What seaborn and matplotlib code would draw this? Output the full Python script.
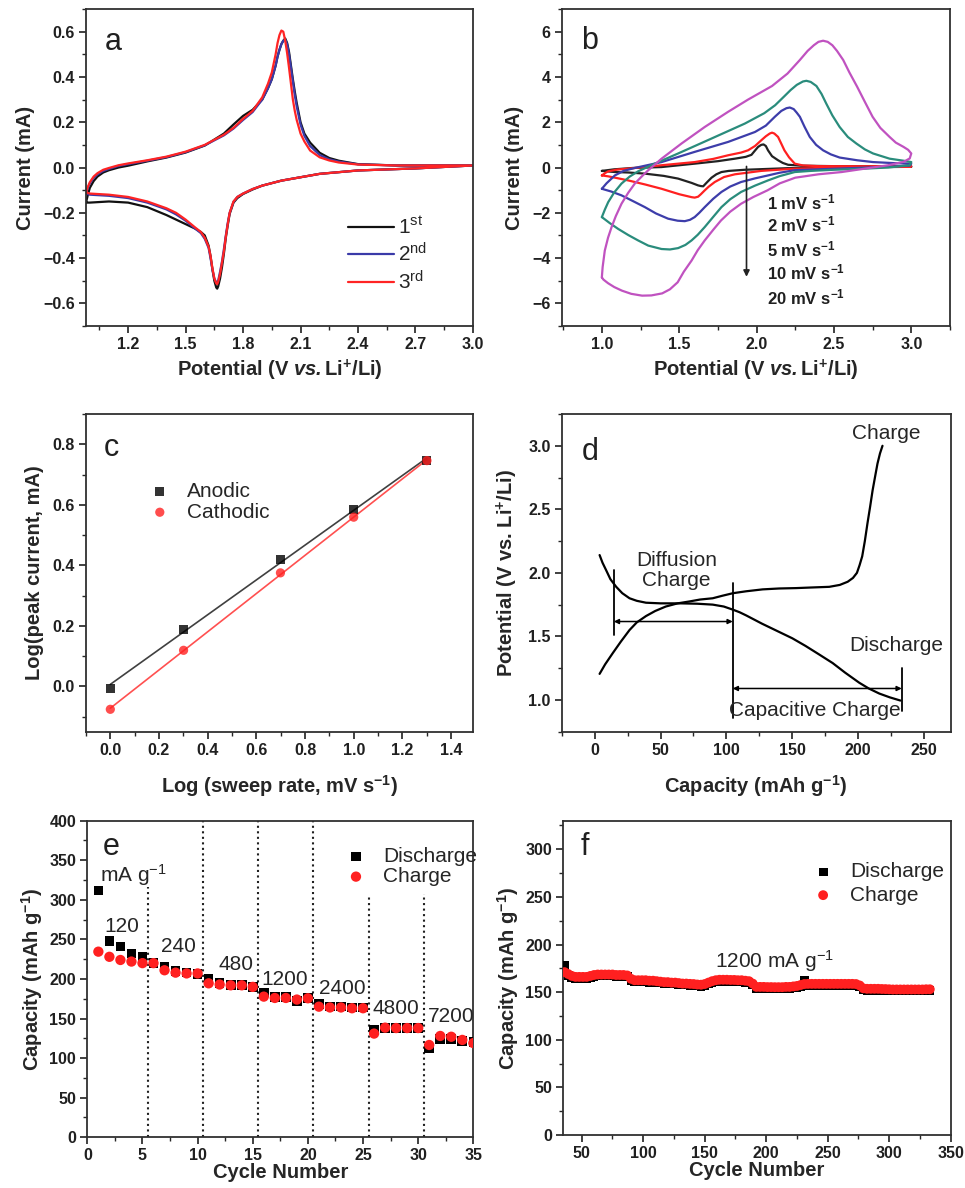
import numpy as np
import pandas as pd
import matplotlib
matplotlib.use("Agg")
import matplotlib.pyplot as plt
import seaborn as sns
from matplotlib.ticker import MultipleLocator

# ---------------- data ----------------
# panel a : CV, three cycles (anodic sweep then cathodic sweep)
a_v_anod = [0.98, 0.99, 1.0, 1.02, 1.04, 1.07, 1.1, 1.15, 1.2, 1.3, 1.4, 1.5, 1.6, 1.7, 1.75, 1.8, 1.85,
            1.9, 1.93, 1.95, 1.97, 1.98, 1.99, 2.0, 2.01, 2.02, 2.03, 2.04, 2.05, 2.06, 2.07, 2.08, 2.1,
            2.12, 2.15, 2.2, 2.25, 2.3, 2.4, 2.6, 3.0]
a_i_anod_1 = [-0.155, -0.12, -0.09, -0.06, -0.04, -0.022, -0.012, 0.0, 0.008, 0.027, 0.044, 0.066, 0.097,
              0.15, 0.19, 0.228, 0.255, 0.30, 0.35, 0.39, 0.45, 0.49, 0.52, 0.545, 0.56, 0.57, 0.55, 0.51,
              0.45, 0.39, 0.335, 0.285, 0.20, 0.15, 0.11, 0.065, 0.042, 0.03, 0.015, 0.009, 0.009]
a_i_anod_2 = [-0.115, -0.09, -0.07, -0.045, -0.03, -0.015, -0.006, 0.007, 0.015, 0.03, 0.046, 0.068, 0.098,
              0.142, 0.172, 0.21, 0.245, 0.30, 0.35, 0.39, 0.45, 0.49, 0.52, 0.545, 0.56, 0.565, 0.545, 0.50,
              0.44, 0.38, 0.32, 0.27, 0.19, 0.14, 0.095, 0.055, 0.036, 0.026, 0.014, 0.009, 0.009]
a_i_anod_3 = [-0.11, -0.085, -0.065, -0.04, -0.025, -0.01, -0.002, 0.01, 0.018, 0.032, 0.048, 0.07, 0.10,
              0.145, 0.175, 0.215, 0.25, 0.31, 0.37, 0.42, 0.50, 0.55, 0.585, 0.605, 0.60, 0.56, 0.505, 0.44,
              0.37, 0.30, 0.25, 0.21, 0.15, 0.115, 0.075, 0.045, 0.031, 0.022, 0.013, 0.009, 0.009]
a_v_cath = [3.0, 2.7, 2.4, 2.2, 2.1, 2.0, 1.9, 1.85, 1.8, 1.77, 1.75, 1.73, 1.72, 1.71, 1.70, 1.69, 1.68,
            1.67, 1.665, 1.66, 1.65, 1.64, 1.63, 1.62, 1.6, 1.58, 1.55, 1.5, 1.45, 1.4, 1.3, 1.2, 1.1, 1.0, 0.98]
a_i_cath_1 = [0.009, -0.004, -0.013, -0.028, -0.043, -0.058, -0.08, -0.097, -0.117, -0.135, -0.155, -0.205,
              -0.255, -0.31, -0.38, -0.44, -0.49, -0.525, -0.535, -0.53, -0.50, -0.45, -0.39, -0.345, -0.30,
              -0.285, -0.27, -0.25, -0.23, -0.21, -0.175, -0.155, -0.15, -0.155, -0.155]
a_i_cath_2 = [0.009, -0.004, -0.013, -0.028, -0.043, -0.058, -0.08, -0.095, -0.115, -0.13, -0.152, -0.2,
              -0.245, -0.30, -0.36, -0.415, -0.46, -0.50, -0.51, -0.508, -0.49, -0.45, -0.40, -0.355, -0.315,
              -0.29, -0.27, -0.235, -0.207, -0.185, -0.155, -0.135, -0.125, -0.12, -0.115]
a_i_cath_3 = [0.009, -0.004, -0.013, -0.028, -0.043, -0.058, -0.08, -0.095, -0.115, -0.13, -0.15, -0.2,
              -0.25, -0.305, -0.37, -0.42, -0.47, -0.505, -0.515, -0.512, -0.49, -0.445, -0.39, -0.35, -0.31,
              -0.285, -0.265, -0.23, -0.2, -0.18, -0.15, -0.13, -0.12, -0.115, -0.11]
a_labels = [r"1$^{\rm st}$", r"2$^{\rm nd}$", r"3$^{\rm rd}$"]

# panel b : CV at different sweep rates (anodic 1.0 -> 3.0, cathodic 3.0 -> 1.0)
b_rates = ["1", "2", "5", "10", "20"]
b_v_anod = {
    "1": [1.0, 1.08, 1.2, 1.386, 1.6, 1.75, 1.86, 1.93, 1.967, 1.99, 2.01, 2.03, 2.045, 2.06, 2.074, 2.1,
          2.139, 2.17, 2.204, 2.3, 2.5, 3.0],
    "2": [1.0, 1.02, 1.041, 1.1, 1.17, 1.386, 1.6, 1.72, 1.816, 1.9, 1.945, 1.99, 2.03, 2.06, 2.085, 2.1,
          2.115, 2.139, 2.16, 2.18, 2.21, 2.247, 2.3, 2.4, 3.0],
    "5": [1.0, 1.03, 1.084, 1.14, 1.213, 1.386, 1.6, 1.816, 1.99, 2.06, 2.118, 2.16, 2.193, 2.215, 2.24,
          2.26, 2.28, 2.31, 2.344, 2.385, 2.43, 2.48, 2.537, 2.65, 2.753, 2.9, 3.0],
    "10": [1.0, 1.02, 1.041, 1.08, 1.127, 1.18, 1.234, 1.342, 1.493, 1.709, 1.924, 2.05, 2.12, 2.18, 2.22,
           2.26, 2.3, 2.322, 2.35, 2.387, 2.42, 2.45, 2.49, 2.537, 2.59, 2.645, 2.7, 2.753, 2.86, 2.95, 3.0],
    "20": [1.0, 1.005, 1.019, 1.04, 1.063, 1.09, 1.127, 1.17, 1.213, 1.26, 1.30, 1.386, 1.515, 1.665, 1.816,
           1.945, 2.1, 2.2, 2.28, 2.33, 2.37, 2.40, 2.43, 2.46, 2.49, 2.52, 2.56, 2.60, 2.65, 2.70, 2.75,
           2.80, 2.86, 2.90, 2.95, 2.98, 3.0],
}
b_i_anod = {
    "1": [-0.15, -0.08, -0.02, 0.02, 0.17, 0.28, 0.39, 0.47, 0.56, 0.75, 0.91, 1.0, 1.02, 0.95, 0.76, 0.5,
          0.32, 0.2, 0.12, 0.08, 0.06, 0.05],
    "2": [-0.35, -0.25, -0.17, -0.09, -0.05, 0.1, 0.24, 0.38, 0.54, 0.66, 0.76, 0.95, 1.2, 1.38, 1.5, 1.54,
          1.5, 1.35, 1.05, 0.76, 0.45, 0.17, 0.09, 0.06, 0.05],
    "5": [-0.94, -0.7, -0.35, -0.15, -0.02, 0.24, 0.69, 1.13, 1.57, 1.85, 2.24, 2.5, 2.62, 2.65, 2.58, 2.42,
          2.24, 1.8, 1.35, 1.0, 0.76, 0.58, 0.44, 0.32, 0.24, 0.19, 0.17],
    "10": [-2.19, -1.85, -1.53, -1.1, -0.71, -0.4, -0.17, 0.17, 0.62, 1.28, 1.94, 2.4, 2.75, 3.15, 3.42,
           3.65, 3.8, 3.83, 3.78, 3.6, 3.25, 2.83, 2.3, 1.79, 1.35, 1.06, 0.8, 0.62, 0.39, 0.3, 0.24],
    "20": [-4.85, -4.4, -3.67, -3.1, -2.63, -2.15, -1.6, -1.12, -0.71, -0.38, -0.12, 0.39, 1.06, 1.79, 2.46,
           3.0, 3.6, 4.15, 4.75, 5.15, 5.4, 5.55, 5.6, 5.55, 5.4, 5.15, 4.75, 4.2, 3.57, 2.9, 2.24, 1.75,
           1.35, 1.1, 0.91, 0.78, 0.62],
}
b_v_cath = {
    "1": [3.0, 2.5, 2.2, 1.924, 1.82, 1.773, 1.74, 1.709, 1.68, 1.655, 1.64, 1.622, 1.58, 1.493, 1.4,
          1.278, 1.17, 1.084, 1.0],
    "2": [3.0, 2.6, 2.247, 2.03, 1.86, 1.79, 1.73, 1.69, 1.665, 1.64, 1.622, 1.6, 1.58, 1.5, 1.386, 1.28,
          1.17, 1.1, 1.041, 1.0],
    "5": [3.0, 2.99, 2.8, 2.6, 2.4, 2.247, 2.15, 2.074, 1.99, 1.90, 1.83, 1.773, 1.72, 1.665, 1.63, 1.60,
          1.57, 1.536, 1.49, 1.428, 1.35, 1.278, 1.2, 1.127, 1.06, 1.0],
    "10": [3.0, 2.99, 2.85, 2.7, 2.5, 2.35, 2.247, 2.15, 2.074, 1.99, 1.90, 1.83, 1.773, 1.72, 1.665, 1.62,
           1.58, 1.54, 1.493, 1.44, 1.386, 1.3, 1.234, 1.17, 1.105, 1.05, 1.0],
    "20": [3.0, 2.99, 2.95, 2.85, 2.7, 2.55, 2.4, 2.25, 2.15, 2.07, 1.98, 1.90, 1.83, 1.77, 1.72, 1.665,
           1.62, 1.58, 1.53, 1.49, 1.44, 1.39, 1.32, 1.26, 1.19, 1.13, 1.08, 1.04, 1.01, 1.0],
}
b_i_cath = {
    "1": [0.03, 0.0, -0.03, -0.1, -0.15, -0.2, -0.3, -0.45, -0.65, -0.83, -0.82, -0.79, -0.68, -0.49, -0.37,
          -0.27, -0.22, -0.2, -0.15],
    "2": [0.05, 0.0, -0.05, -0.15, -0.3, -0.42, -0.64, -0.85, -1.01, -1.18, -1.29, -1.33, -1.31, -1.18,
          -0.94, -0.75, -0.57, -0.47, -0.39, -0.35],
    "5": [0.17, 0.08, 0.02, -0.03, -0.08, -0.12, -0.23, -0.35, -0.48, -0.64, -0.84, -1.08, -1.38, -1.75,
          -2.0, -2.19, -2.31, -2.37, -2.35, -2.26, -2.03, -1.75, -1.48, -1.23, -1.06, -0.94],
    "10": [0.24, 0.1, 0.0, -0.05, -0.1, -0.15, -0.2, -0.38, -0.57, -0.8, -1.08, -1.4, -1.75, -2.18, -2.63,
           -2.97, -3.22, -3.42, -3.56, -3.62, -3.6, -3.45, -3.22, -2.98, -2.71, -2.45, -2.19],
    "20": [0.62, 0.4, 0.25, 0.1, -0.05, -0.2, -0.3, -0.45, -0.7, -1.01, -1.3, -1.6, -1.95, -2.34, -2.75,
           -3.22, -3.65, -4.11, -4.6, -5.07, -5.38, -5.56, -5.65, -5.66, -5.58, -5.44, -5.28, -5.11, -4.95,
           -4.85],
}
b_colors = {"1": "#222222", "2": "#ff2020", "5": "#3d3daa", "10": "#2a8c7c", "20": "#c052c0"}

# panel c : log peak current vs log sweep rate
c_log_rate = [0.0, 0.301, 0.699, 1.0, 1.301]
c_anodic = [-0.006, 0.189, 0.419, 0.583, 0.746]
c_cathodic = [-0.076, 0.119, 0.375, 0.559, 0.746]

# panel d : charge / discharge profile
d_charge_cap = [3.8, 8, 13.9, 20, 26.5, 32, 39, 46, 54, 63, 72, 80, 89.6, 97, 105, 115, 127.5, 140, 152.8,
                165, 178, 186, 192, 196, 199, 201, 203, 205, 207, 209, 210.9, 213, 214.6, 216.5, 218.4]
d_charge_pot = [1.205, 1.28, 1.37, 1.46, 1.55, 1.61, 1.66, 1.70, 1.735, 1.76, 1.775, 1.79, 1.80, 1.82, 1.84,
                1.855, 1.87, 1.877, 1.88, 1.885, 1.89, 1.905, 1.93, 1.96, 2.0, 2.06, 2.13, 2.25, 2.39, 2.52,
                2.65, 2.77, 2.86, 2.94, 3.0]
d_dis_cap = [3.8, 6, 8.8, 12, 16.4, 21, 26.5, 32, 39, 50, 64.4, 78, 89.6, 98, 105, 110, 115, 127, 140, 150,
             160, 170, 180.6, 190, 200.8, 208, 216, 224, 232]
d_dis_pot = [2.14, 2.08, 2.02, 1.95, 1.89, 1.84, 1.80, 1.78, 1.765, 1.76, 1.76, 1.757, 1.75, 1.735, 1.71,
             1.69, 1.665, 1.60, 1.535, 1.485, 1.425, 1.36, 1.29, 1.215, 1.135, 1.09, 1.05, 1.02, 0.995]

# panel e : rate capability
e_cycle = list(range(1, 36))
e_discharge = [312, 248, 241, 232, 228, 220, 215, 210, 208, 206, 200, 195, 192, 192, 190, 183, 177, 177,
               172, 176, 168, 165, 165, 164, 164, 136, 138, 138, 138, 138, 112, 124, 124, 122, 120]
e_charge = [234.5, 228, 224, 222, 220, 220, 211, 208, 207, 207, 194.5, 193, 192, 192, 190, 177.7, 176,
            176, 174, 175.6, 165, 164, 164, 163, 163, 131, 138.5, 138, 138, 138, 116.6, 128, 127, 123, 119]
e_rates = ["120", "240", "480", "1200", "2400", "4800", "7200"]

# panel f : long cycling at 1200 mA/g (every 3rd cycle from 36)
f_charge = [171, 169, 167, 166, 166, 166, 166, 167, 168, 168.5, 168.5, 168.5, 168.5, 168.5, 168, 168, 168,
            167.5, 164, 162.5, 162.5, 162.5, 162.5, 162, 162, 161.5, 161, 160.5, 160.5, 160, 160, 159.5,
            159, 159, 158.7, 158.5, 158, 157.8, 158.5, 160, 161.5, 162.5, 163, 163, 163, 162.8, 162.8,
            162.5, 162.5, 162, 161.5, 159, 155.5, 155.5, 155.5, 155.3, 155.3, 155.2, 155.2, 155.2, 155.5,
            155.5, 156, 156.5, 157.5, 158.5, 158.7, 158.7, 158.7, 158.7, 158.7, 158.7, 158.7, 158.7,
            158.7, 158.7, 158.7, 158.7, 158.7, 158.5, 157, 154, 153.5, 153.5, 153.5, 153.5, 153.3, 153.2,
            153, 152.8, 152.8, 152.8, 152.8, 152.8, 152.8, 152.8, 152.8, 152.8, 153, 153]
f_discharge = [178, 167.5, 165.5, 164.5, 164.5, 164.5, 164.5, 165.5, 166.5, 167, 167, 167, 167, 167, 166.5,
               166.5, 166.5, 166, 162.5, 161, 161, 161, 161, 160.5, 160.5, 160, 159.5, 159, 159, 158.5,
               158.5, 158, 157.5, 157.5, 157.2, 157, 156.5, 156.3, 157, 158.5, 160, 161, 161.5, 161.5,
               161.5, 161.3, 161.3, 161, 161, 160.5, 160, 157.5, 154, 154, 154, 153.8, 153.8, 153.7,
               153.7, 153.7, 154, 154, 154.5, 155, 156, 162, 157.2, 157.2, 157.2, 157.2, 157.2, 157.2,
               157.2, 157.2, 157.2, 157.2, 157.2, 157.2, 157.2, 157, 155.5, 152.5, 152, 152, 152, 152,
               151.8, 151.7, 151.5, 151.3, 151.3, 151.3, 151.3, 151.3, 151.3, 151.3, 151.3, 151.3, 151.5, 151.5]

# ---------------- style ----------------
sns.set_style("ticks")
plt.rcParams["font.family"] = ["Liberation Sans", "DejaVu Sans"]
plt.rcParams["mathtext.fontset"] = "custom"
plt.rcParams["mathtext.rm"] = "Liberation Sans"
plt.rcParams["mathtext.it"] = "Liberation Sans:italic"
plt.rcParams["mathtext.bf"] = "Liberation Sans:bold"
plt.rcParams["mathtext.sf"] = "Liberation Sans:italic:bold"
plt.rcParams["mathtext.default"] = "rm"
plt.rcParams["axes.linewidth"] = 1.3
plt.rcParams["axes.edgecolor"] = "#303030"

TICK_FS = 11.5
LABEL_FS = 14.5
POT_LABEL = r"Potential (V $\mathsf{vs.}$Li$^{\mathbf{+}}$/Li)"


def style_axes(ax, xmaj, xmin, ymaj, ymin, xlabel, ylabel, xpad=4, ypad=6):
    ax.xaxis.set_major_locator(MultipleLocator(xmaj))
    ax.xaxis.set_minor_locator(MultipleLocator(xmin))
    ax.yaxis.set_major_locator(MultipleLocator(ymaj))
    ax.yaxis.set_minor_locator(MultipleLocator(ymin))
    ax.tick_params(which="major", direction="out", length=5, width=1.2, labelsize=TICK_FS,
                   colors="#202020", top=False, right=False, pad=3)
    ax.tick_params(which="minor", direction="out", length=3, width=1.0, top=False, right=False)
    for lbl in ax.get_xticklabels() + ax.get_yticklabels():
        lbl.set_fontweight("bold")
    for s in ax.spines.values():
        s.set_visible(True)
        s.set_linewidth(1.3)
    ax.set_xlabel(xlabel, fontsize=LABEL_FS, fontweight="bold", labelpad=xpad)
    ax.set_ylabel(ylabel, fontsize=LABEL_FS, fontweight="bold", labelpad=ypad)


def panel_label(ax, s, x, y):
    ax.text(x, y, s, transform=ax.transAxes, fontsize=22, ha="center", va="center", color="#202020")


fig = plt.figure(figsize=(9.65, 11.88), dpi=100)
ax_a = fig.add_axes([0.0891, 0.7256, 0.401, 0.2668])
ax_b = fig.add_axes([0.582, 0.7256, 0.4024, 0.2668])
ax_c = fig.add_axes([0.0891, 0.3841, 0.401, 0.2674])
ax_d = fig.add_axes([0.582, 0.3841, 0.403, 0.2674])
ax_e = fig.add_axes([0.0905, 0.0427, 0.400, 0.2665])
ax_f = fig.add_axes([0.5837, 0.0446, 0.4015, 0.2646])

# ---------------- panel a ----------------
a_cols = ["#111111", "#3a3aa8", "#ff2424"]
a_anod = [a_i_anod_1, a_i_anod_2, a_i_anod_3]
a_cath = [a_i_cath_1, a_i_cath_2, a_i_cath_3]
for k in range(3):
    df = pd.DataFrame({"V": a_v_anod + a_v_cath, "I": a_anod[k] + a_cath[k]})
    sns.lineplot(data=df, x="V", y="I", sort=False, estimator=None, ax=ax_a,
                 color=a_cols[k], lw=1.6, label=a_labels[k])
ax_a.set_xlim(0.98, 3.0)
ax_a.set_ylim(-0.7, 0.7)
style_axes(ax_a, 0.3, 0.15, 0.2, 0.1, POT_LABEL, "Current (mA)", xpad=4, ypad=6)
ax_a.legend(loc="center left", bbox_to_anchor=(0.65, 0.224), frameon=False, fontsize=15,
            handlelength=2.2, handletextpad=0.2, labelspacing=0.2, borderpad=0)
panel_label(ax_a, "a", 0.07, 0.896)

# ---------------- panel b ----------------
for r in b_rates:
    df = pd.DataFrame({"V": b_v_anod[r] + b_v_cath[r], "I": b_i_anod[r] + b_i_cath[r]})
    sns.lineplot(data=df, x="V", y="I", sort=False, estimator=None, ax=ax_b,
                 color=b_colors[r], lw=1.6, legend=False)
ax_b.set_xlim(0.74, 3.25)
ax_b.set_ylim(-7, 7)
style_axes(ax_b, 0.5, 0.25, 2, 1, POT_LABEL, "Current (mA)", xpad=4, ypad=6)
ax_b.set_xticks([1.0, 1.5, 2.0, 2.5, 3.0])
for lbl in ax_b.get_xticklabels():
    lbl.set_fontweight("bold")
ax_b.annotate("", xy=(1.935, -4.95), xytext=(1.935, 0.17),
              arrowprops=dict(arrowstyle="-|>", color="#222222", lw=1.2, mutation_scale=9))
b_text_y = [-1.53, -2.51, -3.6, -4.63, -5.73]
for r, yy in zip(b_rates, b_text_y):
    ax_b.text(2.065, yy, r + r" mV s$^{\mathbf{-1}}$", fontsize=12, fontweight="bold",
              ha="left", va="center", color="#202020")
panel_label(ax_b, "b", 0.073, 0.9)

# ---------------- panel c ----------------
sns.regplot(x=c_log_rate, y=c_anodic, ax=ax_c, ci=None, marker="s", color="black",
            scatter_kws={"s": 42, "edgecolor": "none", "zorder": 3},
            line_kws={"lw": 1.2, "color": "#404040"}, label="Anodic")
sns.regplot(x=c_log_rate, y=c_cathodic, ax=ax_c, ci=None, marker="o", color="#ff2020",
            scatter_kws={"s": 44, "edgecolor": "none", "zorder": 3},
            line_kws={"lw": 1.2, "color": "#ff5050"}, label="Cathodic")
ax_c.set_xlim(-0.1, 1.49)
ax_c.set_ylim(-0.15, 0.9)
style_axes(ax_c, 0.2, 0.1, 0.2, 0.1, r"Log (sweep rate, mV s$^{\mathbf{-1}}$)",
           "Log(peak current, mA)", xpad=11, ypad=6)
ax_c.legend(loc="upper left", bbox_to_anchor=(0.11, 0.82), frameon=False, fontsize=15,
            handletextpad=0.3, labelspacing=0.1, borderpad=0, markerscale=1.0)
panel_label(ax_c, "c", 0.066, 0.892)

# ---------------- panel d ----------------
sns.lineplot(x=d_charge_cap, y=d_charge_pot, sort=False, estimator=None, ax=ax_d, color="black", lw=1.6)
sns.lineplot(x=d_dis_cap, y=d_dis_pot, sort=False, estimator=None, ax=ax_d, color="black", lw=1.6)
ax_d.set_xlim(-25, 270)
ax_d.set_ylim(0.75, 3.25)
style_axes(ax_d, 50, 25, 0.5, 0.25, r"Capacity (mAh g$^{\mathbf{-1}}$)",
           r"Potential (V vs. Li$^{\mathbf{+}}$/Li)", xpad=11, ypad=6)
ax_d.plot([14.6, 14.6], [1.51, 2.02], color="black", lw=1.3)
ax_d.plot([104.8, 104.8], [0.86, 1.92], color="black", lw=1.3)
ax_d.plot([233, 233], [0.91, 1.25], color="black", lw=1.3)
ax_d.annotate("", xy=(14.6, 1.617), xytext=(104.8, 1.617),
              arrowprops=dict(arrowstyle="<|-|>", color="black", lw=1.1, mutation_scale=7, shrinkA=0, shrinkB=0))
ax_d.annotate("", xy=(104.8, 1.09), xytext=(233, 1.09),
              arrowprops=dict(arrowstyle="<|-|>", color="black", lw=1.1, mutation_scale=7, shrinkA=0, shrinkB=0))
ax_d.text(62, 2.02, "Diffusion\nCharge", fontsize=15, ha="center", va="center", linespacing=1.05)
ax_d.text(221, 3.1, "Charge", fontsize=15, ha="center", va="center")
ax_d.text(228.5, 1.43, "Discharge", fontsize=15, ha="center", va="center")
ax_d.text(167, 0.92, "Capacitive Charge", fontsize=15, ha="center", va="center")
panel_label(ax_d, "d", 0.073, 0.88)

# ---------------- panel e ----------------
ax_e.vlines([5.5], 0, 316, colors="#202020", linestyles=":", lw=1.5)
ax_e.vlines([10.5, 15.5, 20.5], 0, 400, colors="#202020", linestyles=":", lw=1.5)
ax_e.vlines([25.5], 0, 304, colors="#202020", linestyles=":", lw=1.5)
ax_e.vlines([30.5], 0, 307, colors="#202020", linestyles=":", lw=1.5)
sns.scatterplot(x=e_cycle, y=e_discharge, ax=ax_e, marker="s", color="black", s=48,
                edgecolor="none", label="Discharge", zorder=3)
sns.scatterplot(x=e_cycle, y=e_charge, ax=ax_e, marker="o", color="#ff2020", s=55,
                edgecolor="none", label="Charge", zorder=4)
ax_e.set_xlim(0, 35)
ax_e.set_ylim(0, 400)
style_axes(ax_e, 5, 2.5, 50, 25, "Cycle Number", r"Capacity (mAh g$^{\mathbf{-1}}$)", xpad=0, ypad=3)
ax_e.legend(loc="center left", bbox_to_anchor=(0.615, 0.855), frameon=False, fontsize=15,
            handletextpad=0.3, labelspacing=0.05, borderpad=0)
ax_e.text(1.15, 331, r"mA g$^{-1}$", fontsize=15, ha="left", va="center")
e_text_xy = [(3.1, 266), (8.25, 241), (13.5, 218), (17.9, 199), (23.1, 188), (28.0, 163), (33.0, 152)]
for s_, (xx, yy) in zip(e_rates, e_text_xy):
    ax_e.text(xx, yy, s_, fontsize=15, ha="center", va="center")
panel_label(ax_e, "e", 0.063, 0.918)

# ---------------- panel f ----------------
f_cycle = list(range(36, 36 + 3 * len(f_charge), 3))
sns.scatterplot(x=f_cycle, y=f_discharge, ax=ax_f, marker="s", color="black", s=40,
                edgecolor="none", label="Discharge", zorder=3)
sns.scatterplot(x=f_cycle, y=f_charge, ax=ax_f, marker="o", color="#ff2020", s=50,
                edgecolor="none", label="Charge", zorder=4)
ax_f.set_xlim(35, 350)
ax_f.set_ylim(0, 330)
style_axes(ax_f, 50, 25, 50, 25, "Cycle Number", r"Capacity (mAh g$^{\mathbf{-1}}$)", xpad=0, ypad=3)
ax_f.set_xticks([50, 100, 150, 200, 250, 300, 350])
for lbl in ax_f.get_xticklabels():
    lbl.set_fontweight("bold")
ax_f.legend(loc="center left", bbox_to_anchor=(0.59, 0.80), frameon=False, fontsize=15,
            handletextpad=0.3, labelspacing=0.2, borderpad=0)
ax_f.text(207, 183, r"1200 mA g$^{-1}$", fontsize=15, ha="center", va="center")
panel_label(ax_f, "f", 0.056, 0.917)

fig.savefig("out.png", dpi=100)
